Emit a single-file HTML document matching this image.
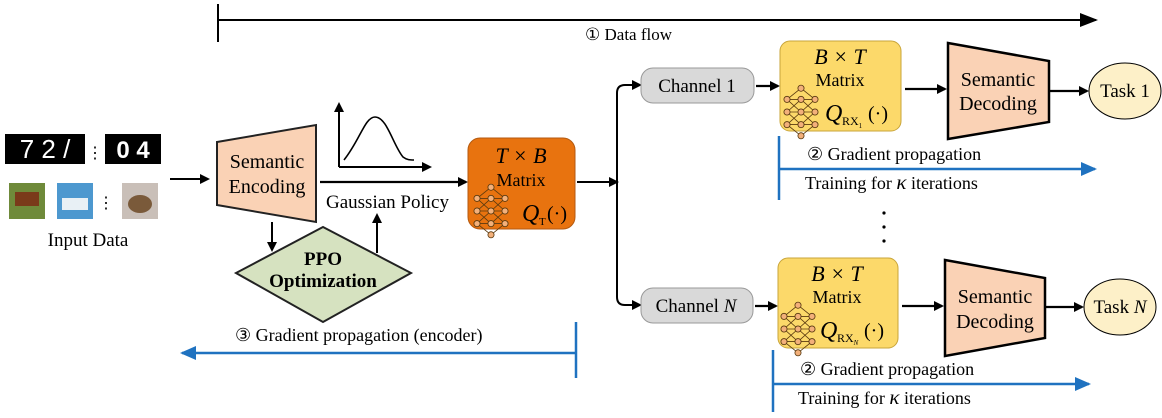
<!DOCTYPE html>
<html><head><meta charset="utf-8"><style>
html,body{margin:0;padding:0;background:#fff;}
svg{display:block;font-family:"Liberation Serif",serif;}
</style></head><body>
<svg width="1162" height="418" viewBox="0 0 1162 418" xmlns="http://www.w3.org/2000/svg">
<defs>
<marker id="ak" markerWidth="10" markerHeight="10" refX="8" refY="5" orient="auto" markerUnits="userSpaceOnUse"><path d="M0,0 L10,5 L0,10 z" fill="#000"/></marker>
<marker id="ab" markerWidth="16" markerHeight="14" refX="14" refY="7" orient="auto" markerUnits="userSpaceOnUse"><path d="M0,0 L16,7 L0,14 z" fill="#1f72c0"/></marker>
<marker id="abig" markerWidth="18" markerHeight="14" refX="16" refY="7" orient="auto" markerUnits="userSpaceOnUse"><path d="M0,0 L18,7 L0,14 z" fill="#000"/></marker>
<g id="nn" stroke="#5a3a10" stroke-width="0.6" fill="none" transform="scale(1.4)">
<path d="M0,0 L10,-9 M0,0 L10,0 M0,0 L10,9 M0,-9 L10,-9 M0,-9 L10,0 M0,9 L10,0 M0,9 L10,9 M10,-9 L20,0 M10,0 L20,0 M10,9 L20,0 M10,-9 L20,-9 M10,9 L20,9 M10,0 L20,-9 M10,0 L20,9 M20,-9 L10,-17 M20,9 L10,17 M0,-9 L10,-17 M0,9 L10,17"/>
<g fill="#f3b07a" stroke="#5a3a10"><circle cx="0" cy="-9" r="2.2"/><circle cx="0" cy="0" r="2.2"/><circle cx="0" cy="9" r="2.2"/><circle cx="10" cy="-17" r="2.2"/><circle cx="10" cy="-9" r="2.2"/><circle cx="10" cy="0" r="2.2"/><circle cx="10" cy="9" r="2.2"/><circle cx="10" cy="17" r="2.2"/><circle cx="20" cy="-9" r="2.2"/><circle cx="20" cy="0" r="2.2"/><circle cx="20" cy="9" r="2.2"/></g>
</g>
</defs>

<line x1="218" y1="4" x2="218" y2="42" stroke="#000" stroke-width="2"/>
<line x1="218" y1="20" x2="1096" y2="20" stroke="#000" stroke-width="2" marker-end="url(#abig)"/>
<text x="585" y="40" font-size="17">① Data flow</text>

<rect x="5" y="134" width="80" height="30" fill="#000"/>
<text x="45" y="158" font-size="26" fill="#fff" text-anchor="middle" font-family="Liberation Sans,sans-serif">7 2 /</text>
<text x="95" y="158" font-size="16" text-anchor="middle">⋮</text>
<rect x="105" y="134" width="56" height="30" fill="#000"/>
<text x="133" y="158" font-size="24" fill="#fff" text-anchor="middle" font-family="Liberation Sans,sans-serif" font-weight="bold">0 4</text>
<rect x="9" y="183" width="36" height="36" fill="#6f8a3a"/><rect x="15" y="192" width="24" height="14" fill="#7a3a1a"/>
<rect x="57" y="183" width="36" height="36" fill="#4d98cf"/><rect x="62" y="198" width="26" height="12" fill="#e8f0f5"/>
<text x="106" y="208" font-size="16" text-anchor="middle">⋮</text>
<rect x="122" y="183" width="36" height="36" fill="#c9bfb8"/><ellipse cx="140" cy="204" rx="12" ry="9" fill="#7a5a3a"/>
<text x="88" y="246" font-size="19" text-anchor="middle">Input Data</text>
<line x1="170" y1="179" x2="208" y2="179" stroke="#000" stroke-width="2" marker-end="url(#ak)"/>

<polygon points="217,142 316,125 316,222 217,205" fill="#fad2b5" stroke="#222" stroke-width="2"/>
<text x="267" y="168" font-size="20" text-anchor="middle">Semantic</text>
<text x="267" y="193" font-size="20" text-anchor="middle">Encoding</text>

<line x1="339" y1="167" x2="339" y2="104" stroke="#000" stroke-width="2" marker-end="url(#ak)"/>
<line x1="339" y1="167" x2="430" y2="167" stroke="#000" stroke-width="2" marker-end="url(#ak)"/>
<path d="M344,160 C360,140 365,117 375,117 C387,117 393,145 403,157 C407,160 410,160 414,160" fill="none" stroke="#000" stroke-width="1.6"/>
<line x1="320" y1="182" x2="466" y2="182" stroke="#000" stroke-width="2.2" marker-end="url(#ak)"/>
<text x="326" y="208" font-size="19">Gaussian Policy</text>

<polygon points="323,227 411,273 323,322 236,273" fill="#d6e2c0" stroke="#222" stroke-width="2"/>
<text x="323" y="265" font-size="19" font-weight="bold" text-anchor="middle">PPO</text>
<text x="323" y="287" font-size="19" font-weight="bold" text-anchor="middle">Optimization</text>
<line x1="272" y1="222" x2="272" y2="250" stroke="#000" stroke-width="2" marker-end="url(#ak)"/>
<line x1="377" y1="253" x2="377" y2="215" stroke="#000" stroke-width="2" marker-end="url(#ak)"/>

<rect x="468" y="138" width="107" height="91" rx="12" fill="#e8730f" stroke="#b45a10" stroke-width="1"/>
<text x="521" y="163" font-size="22" font-style="italic" text-anchor="middle">T × B</text>
<text x="521" y="186" font-size="18" text-anchor="middle">Matrix</text>
<use href="#nn" x="477" y="211"/>
<text x="522" y="221" font-size="24" font-style="italic">Q</text>
<text x="539" y="225" font-size="11">T</text>
<text x="547" y="220" font-size="20">(·)</text>

<line x1="576" y1="322" x2="576" y2="378" stroke="#1f72c0" stroke-width="2.5"/>
<line x1="576" y1="353" x2="182" y2="353" stroke="#1f72c0" stroke-width="2.5" marker-end="url(#ab)"/>
<text x="235" y="341" font-size="18">③ Gradient propagation (encoder)</text>

<line x1="577" y1="182" x2="617" y2="182" stroke="#000" stroke-width="2" marker-end="url(#ak)"/>
<path d="M637,85 L625,85 Q617,85 617,93 L617,297 Q617,305 625,305 L637,305" fill="none" stroke="#000" stroke-width="2"/>
<line x1="630" y1="85" x2="640" y2="85" stroke="#000" stroke-width="2" marker-end="url(#ak)"/>
<line x1="630" y1="305" x2="640" y2="305" stroke="#000" stroke-width="2" marker-end="url(#ak)"/>

<rect x="641" y="68" width="113" height="35" rx="12" fill="#d9d9d9" stroke="#999"/>
<text x="697" y="92" font-size="19" text-anchor="middle">Channel 1</text>
<line x1="756" y1="86" x2="778" y2="86" stroke="#000" stroke-width="2.2" marker-end="url(#ak)"/>
<rect x="780" y="41" width="121" height="90" rx="10" fill="#fcd96a" stroke="#c9a53a"/>
<text x="840" y="64" font-size="22" font-style="italic" text-anchor="middle">B × T</text>
<text x="840" y="86" font-size="18" text-anchor="middle">Matrix</text>
<use href="#nn" x="787" y="112"/>
<text x="825" y="121" font-size="24" font-style="italic">Q</text>
<text x="842" y="125" font-size="12">RX<tspan font-size="7" dy="3">1</tspan></text>
<text x="868" y="120" font-size="20">(·)</text>
<line x1="905" y1="89" x2="945" y2="89" stroke="#000" stroke-width="2.2" marker-end="url(#ak)"/>
<polygon points="948,43 1049,61 1049,122 948,139" fill="#fad2b5" stroke="#000" stroke-width="2.5"/>
<text x="998" y="86" font-size="20" text-anchor="middle">Semantic</text>
<text x="998" y="110" font-size="20" text-anchor="middle">Decoding</text>
<line x1="1050" y1="91" x2="1087" y2="91" stroke="#000" stroke-width="2.2" marker-end="url(#ak)"/>
<ellipse cx="1125" cy="91" rx="36" ry="28" fill="#fdf0c8" stroke="#000" stroke-width="1"/>
<text x="1125" y="97" font-size="19" text-anchor="middle">Task 1</text>

<line x1="779" y1="136" x2="779" y2="200" stroke="#1f72c0" stroke-width="2.5"/>
<line x1="779" y1="169" x2="1095" y2="169" stroke="#1f72c0" stroke-width="2.5" marker-end="url(#ab)"/>
<text x="807" y="160" font-size="18">② Gradient propagation</text>
<text x="805" y="189" font-size="18">Training for <tspan font-style="italic" font-size="21">κ</tspan> iterations</text>

<circle cx="884" cy="213" r="1.6"/><circle cx="884" cy="227" r="1.6"/><circle cx="884" cy="241" r="1.6"/>

<rect x="641" y="288" width="112" height="35" rx="12" fill="#d9d9d9" stroke="#999"/>
<text x="696" y="312" font-size="19" text-anchor="middle">Channel <tspan font-style="italic">N</tspan></text>
<line x1="755" y1="306" x2="776" y2="306" stroke="#000" stroke-width="2.2" marker-end="url(#ak)"/>
<rect x="778" y="258" width="120" height="90" rx="10" fill="#fcd96a" stroke="#c9a53a"/>
<text x="837" y="281" font-size="22" font-style="italic" text-anchor="middle">B × T</text>
<text x="837" y="303" font-size="18" text-anchor="middle">Matrix</text>
<use href="#nn" x="784" y="329"/>
<text x="820" y="338" font-size="24" font-style="italic">Q</text>
<text x="837" y="342" font-size="12">RX<tspan font-size="7" dy="3" font-style="italic">N</tspan></text>
<text x="864" y="337" font-size="20">(·)</text>
<line x1="902" y1="306" x2="942" y2="306" stroke="#000" stroke-width="2.2" marker-end="url(#ak)"/>
<polygon points="945,260 1045,278 1045,338 945,356" fill="#fad2b5" stroke="#000" stroke-width="2.5"/>
<text x="995" y="303" font-size="20" text-anchor="middle">Semantic</text>
<text x="995" y="328" font-size="20" text-anchor="middle">Decoding</text>
<line x1="1046" y1="307" x2="1082" y2="307" stroke="#000" stroke-width="2.2" marker-end="url(#ak)"/>
<ellipse cx="1120" cy="307" rx="36" ry="28" fill="#fdf0c8" stroke="#000" stroke-width="1"/>
<text x="1120" y="313" font-size="19" text-anchor="middle">Task <tspan font-style="italic">N</tspan></text>

<line x1="773" y1="350" x2="773" y2="412" stroke="#1f72c0" stroke-width="2.5"/>
<line x1="773" y1="384" x2="1089" y2="384" stroke="#1f72c0" stroke-width="2.5" marker-end="url(#ab)"/>
<text x="800" y="375" font-size="18">② Gradient propagation</text>
<text x="798" y="404" font-size="18">Training for <tspan font-style="italic" font-size="21">κ</tspan> iterations</text>
</svg>
</body></html>
